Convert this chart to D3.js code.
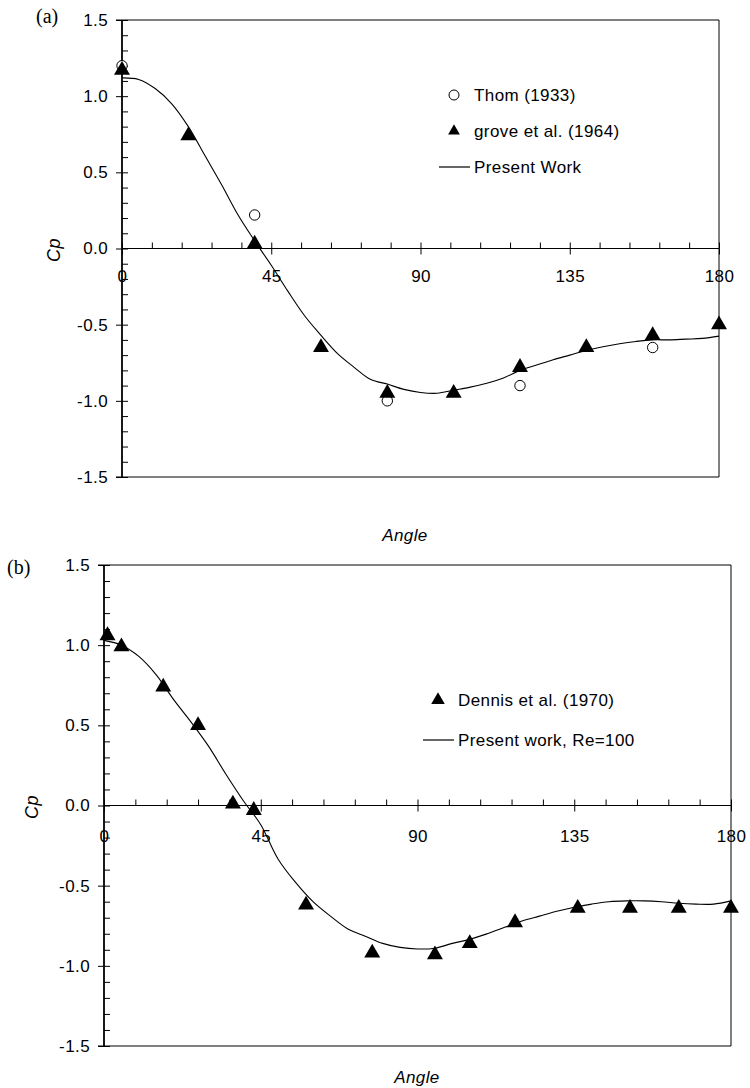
<!DOCTYPE html>
<html>
<head>
<meta charset="utf-8">
<script src="https://cdn.jsdelivr.net/npm/d3@7"></script>
<style>
  body { margin: 0; background: #fff; }
  svg text { font-family: "Liberation Sans", Arial, sans-serif; font-size: 17px; letter-spacing: 0.4px; fill: #000; }
</style>
</head>
<body>
<svg id="chart" width="750" height="1088"></svg>
<script>
// panel (a) data
var thomAngle = [0, 40, 80, 120, 160];
var thomCp = [1.20, 0.22, -1.00, -0.90, -0.65];
var groveAngle = [0, 20, 40, 60, 80, 100, 120, 140, 160, 180];
var groveCp = [1.17, 0.74, 0.03, -0.65, -0.95, -0.95, -0.78, -0.65, -0.57, -0.50];
var presentAngleA = [0, 5, 10, 15, 20, 25, 30, 35, 40, 45, 50, 55, 60, 65, 70, 75, 80, 85, 90, 95,
  100, 105, 110, 115, 120, 125, 130, 135, 140, 145, 150, 155, 160, 165, 170, 175, 180];
var presentCpA = [1.12, 1.11, 1.05, 0.95, 0.80, 0.61, 0.42, 0.22, 0.05, -0.11, -0.28, -0.44, -0.57, -0.69, -0.78, -0.86, -0.89, -0.925, -0.945, -0.95,
  -0.93, -0.91, -0.885, -0.85, -0.80, -0.765, -0.73, -0.70, -0.67, -0.645, -0.625, -0.61, -0.60, -0.60, -0.595, -0.59, -0.575];

// panel (b) data
var dennisAngle = [1, 5, 17, 27, 37, 43, 58, 77, 95, 105, 118, 136, 151, 165, 180];
var dennisCp = [1.06, 0.99, 0.74, 0.50, 0.01, -0.03, -0.62, -0.92, -0.93, -0.86, -0.73, -0.64, -0.64, -0.64, -0.64];
var presentAngleB = presentAngleA;
var presentCpB = [1.03, 1.00, 0.93, 0.815, 0.66, 0.52, 0.37, 0.195, 0.03, -0.12, -0.335, -0.48, -0.60, -0.69, -0.77, -0.815, -0.86, -0.885, -0.895, -0.89,
  -0.86, -0.835, -0.80, -0.76, -0.72, -0.69, -0.66, -0.635, -0.615, -0.60, -0.595, -0.595, -0.60, -0.61, -0.615, -0.615, -0.595];

var yMajor = [-1.5, -1.0, -0.5, 0.0, 0.5, 1.0, 1.5];
var xMajor = [0, 45, 90, 135, 180];

var svg = d3.select('#chart');

function zip(a, b) {
  return a.map(function(d, i) { return [d, b[i]]; });
}

function drawPanel(p) {
  var x = d3.scaleLinear().domain([0, 180]).range([p.left, p.right]);
  var y = d3.scaleLinear().domain([-1.5, 1.5]).range([p.bottom, p.top]);
  var g = svg.append('g');

  // frame
  g.append('path')
    .attr('d', 'M' + (p.left - 6) + ',' + p.top + 'H' + p.right + 'V' + p.bottom + 'H' + (p.left - 6))
    .attr('fill', 'none').attr('stroke', '#000').attr('stroke-width', 1);

  // y axis: major ticks out with labels, minor ticks inside
  var yOut = g.append('g').attr('transform', 'translate(' + p.left + ',0)')
    .call(d3.axisLeft(y).tickValues(yMajor).tickSize(6).tickPadding(8)
      .tickFormat(function(d) { return d.toFixed(1); }));
  var yIn = g.append('g').attr('transform', 'translate(' + p.left + ',0)')
    .call(d3.axisRight(y).tickValues(d3.range(-15, 16).map(function(d) { return d / 10; })).tickSize(6).tickFormat(''));
  g.append('line')
    .attr('x1', p.left).attr('x2', p.left).attr('y1', p.top).attr('y2', p.bottom)
    .attr('stroke', '#000').attr('stroke-width', 1.8);

  // x axis along Cp = 0
  var xUp = g.append('g').attr('transform', 'translate(0,' + y(0) + ')')
    .call(d3.axisTop(x).tickValues(d3.range(0, 181, 9)).tickSize(6).tickFormat(''));
  var xDown = g.append('g').attr('transform', 'translate(0,' + y(0) + ')')
    .call(d3.axisBottom(x).tickValues(xMajor).tickSize(6).tickPadding(p.xPad).tickFormat(d3.format('d')));
  g.append('line')
    .attr('x1', p.left).attr('x2', p.right).attr('y1', y(0)).attr('y2', y(0))
    .attr('stroke', '#000').attr('stroke-width', 1.2);

  [yOut, yIn, xUp, xDown].forEach(function(a) {
    a.select('.domain').remove();
    a.selectAll('line').attr('stroke', '#000');
    a.selectAll('text').style('font-family', '"Liberation Sans", Arial, sans-serif').style('font-size', '17px').attr('fill', '#000');
  });

  // curve
  var line = d3.line()
    .x(function(d) { return x(d[0]); })
    .y(function(d) { return y(d[1]); })
    .curve(d3.curveCatmullRom.alpha(0.5));
  g.append('path')
    .datum(zip(p.curveX, p.curveY))
    .attr('d', line)
    .attr('fill', 'none').attr('stroke', '#000').attr('stroke-width', 1.1);

  // circles
  if (p.circX) {
    g.selectAll('circle.pt')
      .data(zip(p.circX, p.circY))
      .enter().append('circle')
      .attr('class', 'pt')
      .attr('cx', function(d) { return x(d[0]); })
      .attr('cy', function(d) { return y(d[1]); })
      .attr('r', 5.2)
      .attr('fill', '#fff').attr('stroke', '#000').attr('stroke-width', 1);
  }

  // triangles
  var tri = d3.symbol().type(d3.symbolTriangle).size(110);
  g.selectAll('path.tri')
    .data(zip(p.triX, p.triY))
    .enter().append('path')
    .attr('class', 'tri')
    .attr('d', tri)
    .attr('transform', function(d) { return 'translate(' + x(d[0]) + ',' + y(d[1]) + ')'; })
    .attr('fill', '#000');

  // panel label
  g.append('text')
    .attr('x', p.tagX).attr('y', p.tagY)
    .style('font-family', '"Liberation Serif", "Times New Roman", serif')
    .style('font-size', '20px')
    .style('letter-spacing', '0px')
    .text(p.tag);

  // axis titles
  g.append('text')
    .attr('transform', 'translate(' + p.cpX + ',' + p.cpY + ') rotate(-90)')
    .attr('text-anchor', 'middle')
    .attr('dominant-baseline', 'central')
    .style('font-style', 'italic')
    .style('font-size', '18px')
    .text('Cp');
  g.append('text')
    .attr('x', p.angX).attr('y', p.angY)
    .attr('text-anchor', 'middle')
    .attr('dominant-baseline', 'central')
    .style('font-style', 'italic')
    .text('Angle');

  // legend
  var lg = g.append('g');
  p.legend.forEach(function(item, i) {
    var ly = p.legY + i * p.legStep;
    if (item.type === 'circle') {
      lg.append('circle').attr('cx', p.legX).attr('cy', ly).attr('r', 5)
        .attr('fill', '#fff').attr('stroke', '#000');
    } else if (item.type === 'triangle') {
      lg.append('path').attr('d', d3.symbol().type(d3.symbolTriangle).size(p.legTri)())
        .attr('transform', 'translate(' + p.legX + ',' + ly + ')').attr('fill', '#000');
    } else {
      lg.append('line').attr('x1', p.legX - 15).attr('x2', p.legX + 16)
        .attr('y1', ly).attr('y2', ly).attr('stroke', '#000').attr('stroke-width', 1.2);
    }
    lg.append('text').attr('x', p.legX + 20).attr('y', ly)
      .attr('dominant-baseline', 'central')
      .text(item.label);
  });
}

drawPanel({
  left: 122, right: 719, top: 20, bottom: 477, xPad: 15,
  curveX: presentAngleA, curveY: presentCpA,
  circX: thomAngle, circY: thomCp,
  triX: groveAngle, triY: groveCp,
  tag: '(a)', tagX: 36, tagY: 23,
  cpX: 54, cpY: 250, angX: 405, angY: 535,
  legX: 454, legY: 95, legStep: 36, legTri: 60,
  legend: [
    { type: 'circle', label: 'Thom (1933)' },
    { type: 'triangle', label: 'grove et al. (1964)' },
    { type: 'line', label: 'Present Work' }
  ]
});

drawPanel({
  left: 104, right: 731, top: 565, bottom: 1046, xPad: 18,
  curveX: presentAngleB, curveY: presentCpB,
  triX: dennisAngle, triY: dennisCp,
  tag: '(b)', tagX: 7, tagY: 574,
  cpX: 32, cpY: 807, angX: 417, angY: 1077,
  legX: 438, legY: 700, legStep: 40, legTri: 80,
  legend: [
    { type: 'triangle', label: 'Dennis et al. (1970)' },
    { type: 'line', label: 'Present work, Re=100' }
  ]
});
</script>
</body>
</html>
